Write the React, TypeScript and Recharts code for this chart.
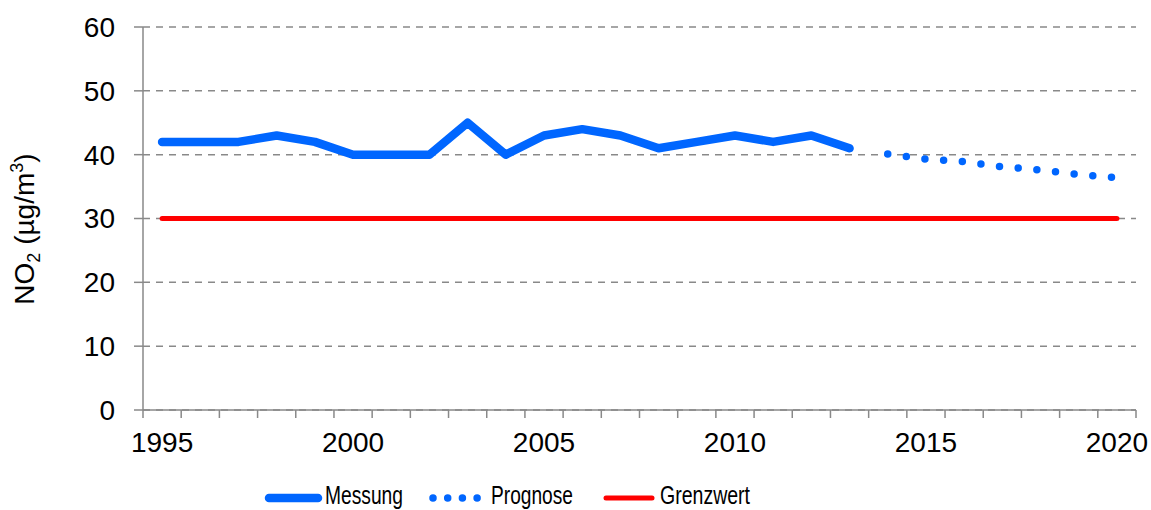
import React from "react";
import {
  LineChart,
  Line,
  XAxis,
  YAxis,
  CartesianGrid,
} from "recharts";

const YEARS = [
  1995, 1996, 1997, 1998, 1999, 2000, 2001, 2002, 2003, 2004, 2005, 2006, 2007,
  2008, 2009, 2010, 2011, 2012, 2013, 2014, 2015, 2016, 2017, 2018, 2019, 2020,
];
const MESSUNG = [42, 42, 42, 43, 42, 40, 40, 40, 45, 40, 43, 44, 43, 41, 42, 43, 42, 43, 41];
const PROGNOSE_YEARS = [2014, 2015, 2016, 2017, 2018, 2019, 2020];
const PROGNOSE = [40.1, 39.3, 38.9, 38.1, 37.6, 36.9, 36.4];
const GRENZWERT = [
  30, 30, 30, 30, 30, 30, 30, 30, 30, 30, 30, 30, 30,
  30, 30, 30, 30, 30, 30, 30, 30, 30, 30, 30, 30, 30,
];
const Y_TICKS = [0, 10, 20, 30, 40, 50, 60];
const LABEL_YEARS = [1995, 2000, 2005, 2010, 2015, 2020];

const data = YEARS.map((year, i) => {
  const p = PROGNOSE_YEARS.indexOf(year);
  return {
    year,
    messung: i < MESSUNG.length ? MESSUNG[i] : null,
    prognose: p >= 0 ? PROGNOSE[p] : null,
    grenzwert: GRENZWERT[i],
  };
});

const FONT = "'Liberation Sans', Arial, sans-serif";
const AXIS = "#898989";
const BLUE = "#0066ff";
const RED = "#ff0000";
const PLOT_LEFT = 143;
const PLOT_RIGHT = 1136;
const STEP = (PLOT_RIGHT - PLOT_LEFT) / YEARS.length;

const YearTick = (props: any) => {
  const { x, y, payload, index } = props;
  const axisY = y - 8;
  const last = index === YEARS.length - 1;
  return (
    <g>
      <line x1={x - STEP / 2} x2={x - STEP / 2} y1={axisY} y2={axisY + 8} stroke={AXIS} strokeWidth={1.5} />
      {last && (
        <line x1={x + STEP / 2} x2={x + STEP / 2} y1={axisY} y2={axisY + 8} stroke={AXIS} strokeWidth={1.5} />
      )}
      {LABEL_YEARS.includes(payload.value) && (
        <text x={x} y={axisY + 42} textAnchor="middle" fontSize={28} fill="#000" fontFamily={FONT}>
          {payload.value}
        </text>
      )}
    </g>
  );
};

const YLabel = () => (
  <text
    transform="translate(34, 229) rotate(-90)"
    textAnchor="middle"
    fontSize={28}
    fill="#000"
    fontFamily={FONT}
  >
    <tspan>NO</tspan>
    <tspan fontSize={18} dy={6}>2</tspan>
    <tspan dy={-6}> (µg/m</tspan>
    <tspan fontSize={18} dy={-11}>3</tspan>
    <tspan dy={11}>)</tspan>
  </text>
);

// legend sits at the very bottom edge, like in the original
const LegendBar = () => (
  <svg width={1151} height={510} style={{ position: "absolute", left: 0, top: 0, pointerEvents: "none" }}>
    <g fontFamily={FONT} fontSize={26} fill="#000">
      <line x1={269} x2={318} y1={498} y2={498} stroke={BLUE} strokeWidth={8.5} strokeLinecap="round" />
      <text x={325} y={504} textLength={78} lengthAdjust="spacingAndGlyphs">Messung</text>
      <line x1={433} x2={478} y1={498} y2={498} stroke={BLUE} strokeWidth={7.5} strokeLinecap="round" strokeDasharray="0 14.7" />
      <text x={491} y={504} textLength={82} lengthAdjust="spacingAndGlyphs">Prognose</text>
      <line x1={606} x2={652} y1={498} y2={498} stroke={RED} strokeWidth={5} strokeLinecap="round" />
      <text x={660} y={504} textLength={90} lengthAdjust="spacingAndGlyphs">Grenzwert</text>
    </g>
  </svg>
);

const App = () => {
  return (
    <div style={{ position: "absolute", left: 0, top: 0, width: 1151, height: 510, background: "#fff", overflow: "hidden" }}>
      <LineChart
        width={1151}
        height={510}
        data={data}
        margin={{ top: 27, right: 1151 - PLOT_RIGHT, left: 0, bottom: 60 }}
      >
        <CartesianGrid vertical={false} stroke={AXIS} strokeDasharray="7 6" strokeWidth={1.5} />
        <XAxis
          dataKey="year"
          type="number"
          domain={[1994.5, 2020.5]}
          ticks={YEARS}
          interval={0}
          height={40}
          tickSize={8}
          tickMargin={0}
          tickLine={false}
          axisLine={{ stroke: AXIS, strokeWidth: 1.5 }}
          tick={<YearTick />}
        />
        <YAxis
          domain={[0, 60]}
          ticks={Y_TICKS}
          interval={0}
          width={PLOT_LEFT}
          tickSize={9}
          tickMargin={19}
          axisLine={{ stroke: AXIS, strokeWidth: 1.5 }}
          tickLine={{ stroke: AXIS, strokeWidth: 1.5 }}
          tick={{ fontSize: 28, fill: "#000", fontFamily: FONT }}
          label={{ content: () => <YLabel /> }}
        />
        <Line
          dataKey="messung"
          stroke={BLUE}
          strokeWidth={8.5}
          strokeLinecap="round"
          strokeLinejoin="round"
          dot={false}
          activeDot={false}
          isAnimationActive={false}
        />
        <Line
          dataKey="prognose"
          stroke={BLUE}
          strokeWidth={7.5}
          strokeLinecap="round"
          strokeDasharray="0 18.75"
          dot={false}
          activeDot={false}
          isAnimationActive={false}
        />
        <Line
          dataKey="grenzwert"
          stroke={RED}
          strokeWidth={5}
          strokeLinecap="round"
          dot={false}
          activeDot={false}
          isAnimationActive={false}
        />
      </LineChart>
      <LegendBar />
    </div>
  );
};

export default App;
